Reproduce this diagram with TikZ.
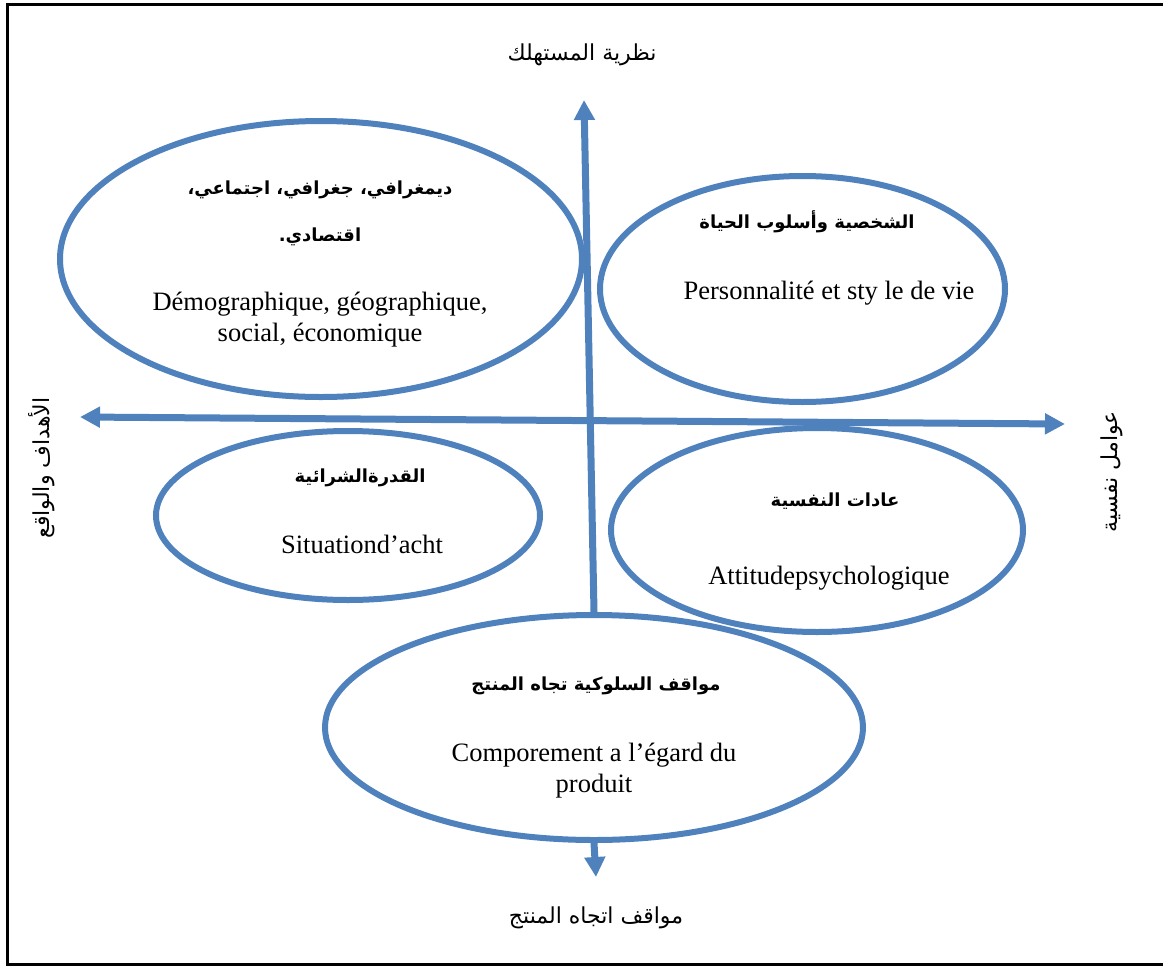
\documentclass[tikz,border=0pt]{standalone}
\usepackage{fontspec}
\setmainfont{Liberation Serif}
\newfontfamily\arabicfont[Script=Arabic]{DejaVu Sans}
\TeXXeTstate=1
\usetikzlibrary{shapes.geometric,arrows.meta}
\definecolor{ablue}{RGB}{79,129,189}
\tikzset{
  ell/.style={ellipse, draw=ablue, line width=6pt, inner sep=0pt},
  axis/.style={draw=ablue, line width=7pt, -{Triangle[width=20pt,length=20pt]}},
  lat/.style={font=\fontsize{26.5}{31}\selectfont, align=center, inner sep=0pt},
  arb/.style={font=\arabicfont\bfseries\fontsize{18}{47}\selectfont, align=center, inner sep=0pt},
  arr/.style={font=\arabicfont\fontsize{22}{26}\selectfont, inner sep=0pt},
}
\begin{document}
\begin{tikzpicture}[x=1pt,y=-1pt]
\useasboundingbox (0,0) rectangle (1163,967);
\draw[line width=3pt] (1163,4) -- (7,4) -- (7,964) -- (1163,964);
% ellipses
\node[ell, minimum width=522pt, minimum height=276pt] (e1) at (321,259) {};
\node[ell, minimum width=405pt, minimum height=226pt] (e2) at (802.5,289) {};
\node[ell, minimum width=384pt, minimum height=169pt] (e3) at (348,515.5) {};
\node[ell, minimum width=412pt, minimum height=204pt] (e4) at (817,530) {};
\node[ell, minimum width=538pt, minimum height=225pt] (e5) at (594,727.5) {};
% axes
\coordinate (top) at (584,100);
\coordinate (hl) at (80,417);
\coordinate (hr) at (1065,424);
\coordinate (bot) at (596,877);
\draw[axis] (e5.north) -- (top);
\draw[draw=ablue, line width=7pt, {Triangle[width=20pt,length=20pt]}-{Triangle[width=20pt,length=20pt]}] (hl) -- (hr);
\draw[axis] (e5.south) -- (bot);
% axis labels
\node[arr] (ttop) at (582,55) {\beginR نظرية المستهلك\endR};
\node[arr] (tbot) at (596,918) {\beginR مواقف اتجاه المنتج\endR};
\node[arr, rotate=90] (tleft) at (42,468) {\beginR الأهداف والواقع\endR};
\node[arr, rotate=90] (tright) at (1112,472) {\beginR عوامل نفسية\endR};
% ellipse texts
\node[arb] (a1) at (320,213) {\beginR ديمغرافي، جغرافي، اجتماعي،\endR\\\beginR اقتصادي.\endR};
\node[lat] (l1) at (320,320) {Démographique, géographique,\\social, économique};
\node[arb] (a2) at (807,222) {\beginR الشخصية وأسلوب الحياة\endR};
\node[lat] (l2) at (829,293) {Personnalité et sty le de vie};
\node[arb] (a3) at (360,478) {\beginR القدرةالشرائية\endR};
\node[lat] (l3) at (362,544) {Situationd’acht};
\node[arb] (a4) at (835,501) {\beginR عادات النفسية\endR};
\node[lat] (l4) at (829,578) {Attitudepsychologique};
\node[arb] (a5) at (596,686) {\beginR مواقف السلوكية تجاه المنتج\endR};
\node[lat] (l5) at (594,771) {Comporement a l’égard du\\produit};
\end{tikzpicture}
\end{document}
